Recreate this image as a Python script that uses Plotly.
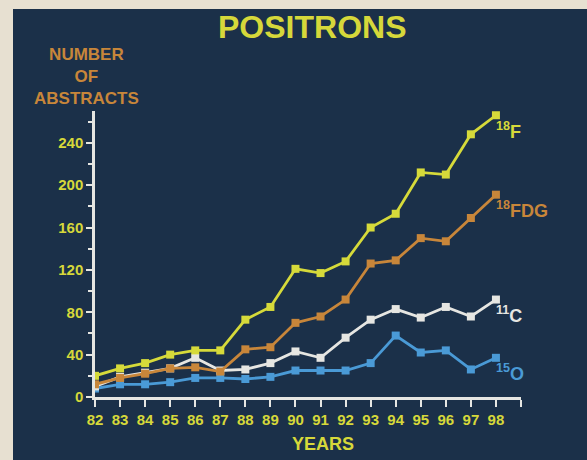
import plotly.graph_objects as go

years = list(range(82, 99))
year_labels = [str(y) for y in years]
f18 = [20, 27, 32, 40, 44, 44, 73, 85, 121, 117, 128, 160, 173, 212, 210, 248, 266]
fdg = [12, 18, 22, 27, 28, 24, 45, 47, 70, 76, 92, 126, 129, 150, 147, 169, 191]
c11 = [10, 19, 23, 27, 37, 25, 26, 32, 43, 37, 56, 73, 83, 75, 85, 76, 92]
o15 = [8, 12, 12, 14, 18, 18, 17, 19, 25, 25, 25, 32, 58, 42, 44, 26, 37]
y_ticks = [0, 40, 80, 120, 160, 200, 240]

series = [
    ("<sup>15</sup>O", o15, "#4a9ad6"),
    ("<sup>11</sup>C", c11, "#e6e6e2"),
    ("<sup>18</sup>FDG", fdg, "#c8863a"),
    ("<sup>18</sup>F", f18, "#d6da3a"),
]

NAVY = "#1b3049"
BEIGE = "#e7e0d1"
YEL = "#d6d83a"
ORG = "#c8863a"
AX = "#e6e6e2"

font_b = dict(family="Liberation Sans, Arial", weight="bold")

fig = go.Figure()
for name, vals, col in series:
    fig.add_trace(go.Scatter(
        x=years, y=vals, mode="lines+markers", name=name,
        line=dict(color=col, width=2.8),
        marker=dict(symbol="square", size=8, color=col),
        showlegend=False,
    ))
    fig.add_annotation(
        x=years[-1], y=vals[-1], text=name, showarrow=False,
        xanchor="left", yanchor="middle", xshift=-2, yshift=-15,
        font=dict(size=18, color=col, **font_b),
    )

fig.update_layout(
    width=587, height=460,
    margin=dict(l=95, r=66, t=111, b=63),
    paper_bgcolor=NAVY,
    plot_bgcolor=NAVY,
    xaxis=dict(
        range=[82, 99], tickvals=years + [99], ticktext=year_labels + [""],
        showgrid=False, zeroline=False, showline=True, linecolor=AX, linewidth=2.5,
        ticks="outside", ticklen=7, tickwidth=2, tickcolor=AX,
        tickfont=dict(size=15, color=YEL, **font_b),
    ),
    yaxis=dict(
        range=[0, 270], tickvals=y_ticks,
        showgrid=False, zeroline=False, showline=True, linecolor=AX, linewidth=2.5,
        ticks="outside", ticklen=6, tickwidth=2, tickcolor=AX,
        minor=dict(dtick=20, tick0=0, ticks="outside", ticklen=4, tickwidth=2, tickcolor=AX),
        tickfont=dict(size=15, color=YEL, **font_b),
    ),
)

# beige frame strips (left and top) in pixel-derived paper coords
pw, ph = 587 - 95 - 66, 460 - 111 - 63
def px(xp):
    return (xp - 95) / pw
def py(yp):
    return (460 - 63 - yp) / ph

fig.update_layout(shapes=[
    dict(type="rect", xref="paper", yref="paper", x0=px(0), x1=px(13), y0=py(460), y1=py(0),
         fillcolor=BEIGE, line=dict(width=0), layer="below"),
    dict(type="rect", xref="paper", yref="paper", x0=px(0), x1=px(587), y0=py(9), y1=py(0),
         fillcolor=BEIGE, line=dict(width=0), layer="below"),
])

fig.add_annotation(xref="paper", yref="paper", x=px(312), y=py(27), text="POSITRONS",
                   xanchor="center", yanchor="middle",
                   showarrow=False, font=dict(size=32, color=YEL, **font_b))
fig.add_annotation(xref="paper", yref="paper", x=px(86), y=py(76),
                   xanchor="center", yanchor="middle",
                   text="NUMBER<br>OF<br>ABSTRACTS", showarrow=False,
                   font=dict(size=17, color=ORG, **font_b), align="center")
fig.add_annotation(xref="paper", yref="paper", x=px(323), y=py(444),
                   xanchor="center", yanchor="middle", text="YEARS", showarrow=False,
                   font=dict(size=18, color=YEL, **font_b))

fig.write_html("out.html")
